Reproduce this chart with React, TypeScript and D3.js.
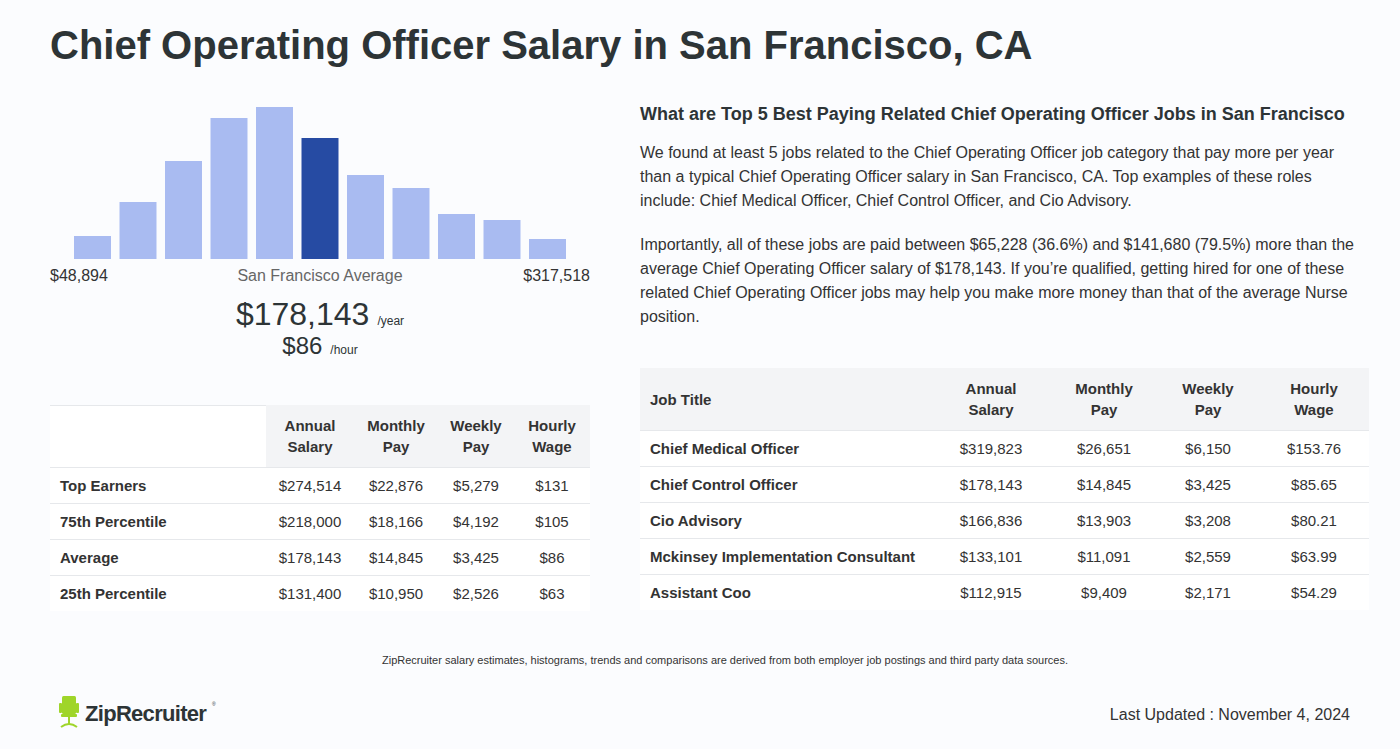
import React from "react";
import * as d3 from "d3";

const histogramBins = [23, 57, 98, 141, 152, 121, 84, 71, 45, 39, 20];
const highlightIndex = 5;
const minSalaryLabel = "$48,894";
const maxSalaryLabel = "$317,518";
const averageLabel = "San Francisco Average";
const averageAnnual = "$178,143";
const averageHourly = "$86";

const summaryHeaders = [["Annual", "Salary"], ["Monthly", "Pay"], ["Weekly", "Pay"], ["Hourly", "Wage"]];
const summaryLabels = ["Top Earners", "75th Percentile", "Average", "25th Percentile"];
const summaryAnnual = ["$274,514", "$218,000", "$178,143", "$131,400"];
const summaryMonthly = ["$22,876", "$18,166", "$14,845", "$10,950"];
const summaryWeekly = ["$5,279", "$4,192", "$3,425", "$2,526"];
const summaryHourly = ["$131", "$105", "$86", "$63"];

const jobTitles = ["Chief Medical Officer", "Chief Control Officer", "Cio Advisory", "Mckinsey Implementation Consultant", "Assistant Coo"];
const jobAnnual = ["$319,823", "$178,143", "$166,836", "$133,101", "$112,915"];
const jobMonthly = ["$26,651", "$14,845", "$13,903", "$11,091", "$9,409"];
const jobWeekly = ["$6,150", "$3,425", "$3,208", "$2,559", "$2,171"];
const jobHourly = ["$153.76", "$85.65", "$80.21", "$63.99", "$54.29"];

const titleText = "Chief Operating Officer Salary in San Francisco, CA";
const sideHeading = "What are Top 5 Best Paying Related Chief Operating Officer Jobs in San Francisco";
const paragraph1 = [
  "We found at least 5 jobs related to the Chief Operating Officer job category that pay more per year",
  "than a typical Chief Operating Officer salary in San Francisco, CA. Top examples of these roles",
  "include: Chief Medical Officer, Chief Control Officer, and Cio Advisory.",
];
const paragraph2 = [
  "Importantly, all of these jobs are paid between $65,228 (36.6%) and $141,680 (79.5%) more than the",
  "average Chief Operating Officer salary of $178,143. If you\u2019re qualified, getting hired for one of these",
  "related Chief Operating Officer jobs may help you make more money than that of the average Nurse",
  "position.",
];
const footnote = "ZipRecruiter salary estimates, histograms, trends and comparisons are derived from both employer job postings and third party data sources.";
const lastUpdated = "Last Updated : November 4, 2024";

const FONT = "'Liberation Sans', Arial, Helvetica, sans-serif";
const DARK = "#2d3436";
const TEXT = "#333333";
const BORDER = "#e6e8eb";
const HEAD_BG = "#f3f4f6";

export default function App() {
  const W = 1400;
  const H = 749;

  const x = d3
    .scaleBand<number>()
    .domain(histogramBins.map((_, i) => i))
    .range([69.75, 570.25])
    .paddingInner(8.5 / 45.5)
    .paddingOuter(4.25 / 45.5);
  const y = d3.scaleLinear().domain([0, d3.max(histogramBins) as number]).range([259, 107]);

  const lt = { x0: 50, x1: 590, headTop: 405, headBottom: 467, rowH: 36 };
  const leftColCenters = [310, 396, 476, 552];
  const summaryCols = [summaryAnnual, summaryMonthly, summaryWeekly, summaryHourly];

  const rt = { x0: 640, x1: 1369, headTop: 368, headBottom: 430, rowH: 36 };
  const rightColCenters = [991, 1104, 1208, 1314];
  const jobCols = [jobAnnual, jobMonthly, jobWeekly, jobHourly];

  const rowY = d3.scaleLinear().domain([0, 1]).range([0, 36]);

  return (
    <svg width={W} height={H} viewBox={`0 0 ${W} ${H}`} style={{ position: "absolute", left: 0, top: 0, fontFamily: FONT }}>
      <rect x={0} y={0} width={W} height={H} fill="#fbfcfe" />
      <text x={50} y={59} fontSize={40} fontWeight={700} fill={DARK}>{titleText}</text>

      {histogramBins.map((v, i) => (
        <rect
          key={i}
          x={x(i)}
          y={y(v)}
          width={x.bandwidth()}
          height={y(0) - y(v)}
          fill={i === highlightIndex ? "#264ba3" : "#a9bbf1"}
        />
      ))}
      <text x={50} y={281} fontSize={16} fill={TEXT}>{minSalaryLabel}</text>
      <text x={320} y={281} fontSize={16} fill="#666" textAnchor="middle">{averageLabel}</text>
      <text x={590} y={281} fontSize={16} fill={TEXT} textAnchor="end">{maxSalaryLabel}</text>

      <text x={320} y={325} textAnchor="middle" fill={DARK}>
        <tspan fontSize={32}>{averageAnnual}</tspan>
        <tspan fontSize={12} dx={8}>/year</tspan>
      </text>
      <text x={320} y={354} textAnchor="middle" fill={DARK}>
        <tspan fontSize={24}>{averageHourly}</tspan>
        <tspan fontSize={12} dx={8}>/hour</tspan>
      </text>

      <rect x={lt.x0} y={lt.headTop} width={lt.x1 - lt.x0} height={lt.headBottom - lt.headTop + summaryLabels.length * lt.rowH} fill="#ffffff" />
      <rect x={266} y={lt.headTop} width={lt.x1 - 266} height={lt.headBottom - lt.headTop} fill={HEAD_BG} />
      <line x1={lt.x0} x2={266} y1={lt.headTop + 0.5} y2={lt.headTop + 0.5} stroke={BORDER} />
      {summaryHeaders.map((h, c) => (
        <text key={c} textAnchor="middle" fontSize={15} fontWeight={700} fill={TEXT}>
          <tspan x={leftColCenters[c]} y={431}>{h[0]}</tspan>
          <tspan x={leftColCenters[c]} y={452}>{h[1]}</tspan>
        </text>
      ))}
      {summaryLabels.map((label, r) => {
        const top = lt.headBottom + rowY(r);
        return (
          <g key={r}>
            <line x1={lt.x0} x2={lt.x1} y1={top + 0.5} y2={top + 0.5} stroke={BORDER} />
            <text x={60} y={top + 24} fontSize={15} fontWeight={700} fill={TEXT}>{label}</text>
            {summaryCols.map((col, c) => (
              <text key={c} x={leftColCenters[c]} y={top + 24} fontSize={15} textAnchor="middle" fill={TEXT}>{col[r]}</text>
            ))}
          </g>
        );
      })}

      <text x={640} y={120} fontSize={18} fontWeight={700} fill={DARK}>{sideHeading}</text>
      <text fontSize={16} fill={TEXT}>
        {paragraph1.map((line, i) => (
          <tspan key={i} x={640} y={158 + i * 24}>{line}</tspan>
        ))}
      </text>
      <text fontSize={16} fill={TEXT}>
        {paragraph2.map((line, i) => (
          <tspan key={i} x={640} y={250 + i * 24}>{line}</tspan>
        ))}
      </text>

      <rect x={rt.x0} y={rt.headTop} width={rt.x1 - rt.x0} height={rt.headBottom - rt.headTop + jobTitles.length * rt.rowH} fill="#ffffff" />
      <rect x={rt.x0} y={rt.headTop} width={rt.x1 - rt.x0} height={rt.headBottom - rt.headTop} fill={HEAD_BG} />
      <text x={650} y={405} fontSize={15} fontWeight={700} fill={TEXT}>Job Title</text>
      {summaryHeaders.map((h, c) => (
        <text key={c} textAnchor="middle" fontSize={15} fontWeight={700} fill={TEXT}>
          <tspan x={rightColCenters[c]} y={394}>{h[0]}</tspan>
          <tspan x={rightColCenters[c]} y={415}>{h[1]}</tspan>
        </text>
      ))}
      {jobTitles.map((title, r) => {
        const top = rt.headBottom + rowY(r);
        return (
          <g key={r}>
            <line x1={rt.x0} x2={rt.x1} y1={top + 0.5} y2={top + 0.5} stroke={BORDER} />
            <text x={650} y={top + 24} fontSize={15} fontWeight={700} fill={TEXT}>{title}</text>
            {jobCols.map((col, c) => (
              <text key={c} x={rightColCenters[c]} y={top + 24} fontSize={15} textAnchor="middle" fill={TEXT}>{col[r]}</text>
            ))}
          </g>
        );
      })}

      <text x={725} y={664} fontSize={11} textAnchor="middle" fill={TEXT}>{footnote}</text>

      <g>
        <rect x={62} y={696} width={14} height={18} rx={1.5} fill="#9fd52a" />
        <rect x={59} y={703} width={3} height={10} rx={1} fill="#9fd52a" />
        <rect x={76} y={703} width={3} height={10} rx={1} fill="#9fd52a" />
        <rect x={61} y={714} width={16} height={3} rx={1} fill="#9fd52a" />
        <rect x={68} y={717} width={2} height={8} fill="#9fd52a" />
        <path d="M61 727 Q69 721 77 727" fill="none" stroke="#9fd52a" strokeWidth={2} />
        <text x={85} y={721} fontSize={22} fontWeight={700} fill={DARK} letterSpacing={-0.7}>ZipRecruiter</text>
        <text x={212} y={706} fontSize={5} fill={DARK}>®</text>
      </g>
      <text x={1350} y={720} fontSize={16} textAnchor="end" fill={TEXT}>{lastUpdated}</text>
    </svg>
  );
}
